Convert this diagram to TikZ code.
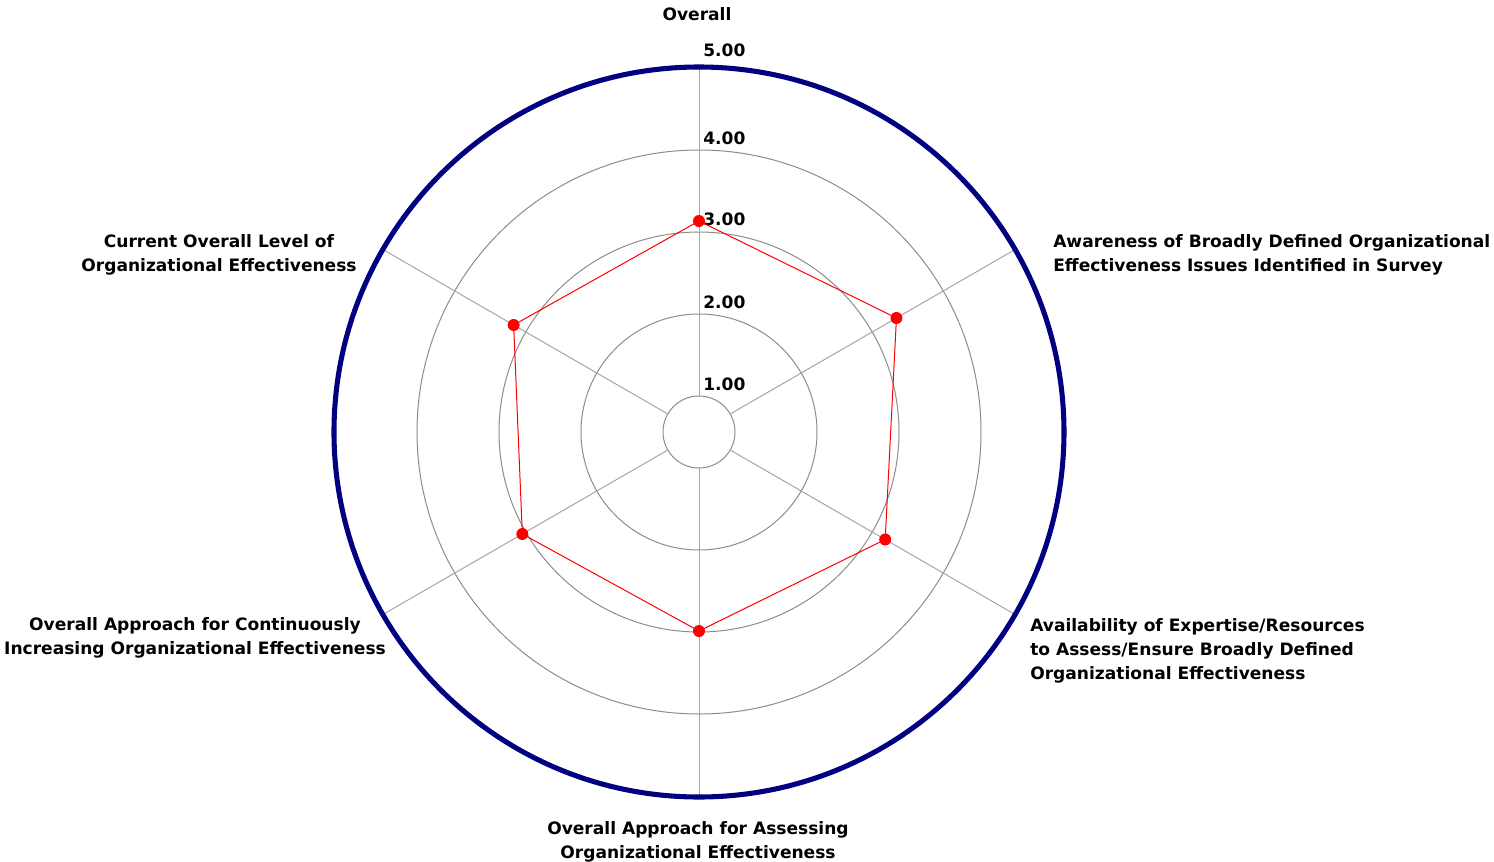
\documentclass[tikz,border=0pt]{standalone}
\usepackage{fontspec}
\setmainfont{DejaVu Sans}
\usepackage{tikz}

\begin{document}
\begin{tikzpicture}[x=0.75pt,y=0.75pt]
\tikzstyle{ring}=[draw=gray!90,line width=0.75pt]
 \tikzstyle{spoke}=[draw=gray!70,line width=0.75pt]
 \tikzstyle{rim}=[draw=blue!50!black,line width=3.8pt]
 \tikzstyle{dot}=[circle,fill=red,inner sep=0pt,minimum size=9pt]
 \tikzstyle{tick}=[anchor=west,inner sep=0pt,font=\bfseries\fontsize{12.8}{18}\selectfont]
 \tikzstyle{axislabel}=[inner sep=0pt,font=\bfseries\fontsize{12.8}{18}\selectfont]
 \useasboundingbox (-699,-429) rectangle (795,432);
 % rings
 \draw[ring] (0,0) circle (36);
 \draw[ring] (0,0) circle (118);
 \draw[ring] (0,0) circle (200);
 \draw[ring] (0,0) circle (282);
 % spokes
 \draw[spoke] (90:36) -- (90:365);
 \draw[spoke] (30:36) -- (30:365);
 \draw[spoke] (-30:36) -- (-30:365);
 \draw[spoke] (-90:36) -- (-90:365);
 \draw[spoke] (-150:36) -- (-150:365);
 \draw[spoke] (150:36) -- (150:365);
 \draw[rim] (0,0) circle (365);
 % scale
 \node[tick] (t1) at (4,48) {1.00};
 \node[tick] (t2) at (4,130) {2.00};
 \node[tick] (t3) at (4,213) {3.00};
 \node[tick] (t4) at (4,294) {4.00};
 \node[tick] (t5) at (4,382) {5.00};
 % scores
 \node[dot] (overall) at (90:211) {};
 \node[dot] (aware) at (30:228) {};
 \node[dot] (avail) at (-30:215) {};
 \node[dot] (assess) at (-90:199) {};
 \node[dot] (contin) at (-150:204) {};
 \node[dot] (current) at (150:214) {};
 \draw[red,line width=0.75pt] (overall.center) -- (aware.center) -- (avail.center) -- (assess.center) -- (contin.center) -- (current.center) -- cycle;
 % labels
 \node[axislabel] (lo) at (-2,418) {Overall};
 \node[axislabel,anchor=west,align=left] (law) at (354,177) {Awareness of Broadly Defined Organizational\\Effectiveness Issues Identified in Survey};
 \node[axislabel,anchor=west,align=left] (lav) at (331,-219) {Availability of Expertise/Resources\\to Assess/Ensure Broadly Defined\\Organizational Effectiveness};
 \node[axislabel,align=center] (las) at (-1,-410) {Overall Approach for Assessing\\Organizational Effectiveness};
 \node[axislabel,align=center] (lco) at (-504,-206) {Overall Approach for Continuously\\Increasing Organizational Effectiveness};
 \node[axislabel,align=center] (lcu) at (-480,177) {Current Overall Level of\\Organizational Effectiveness};
\end{tikzpicture}
\end{document}
